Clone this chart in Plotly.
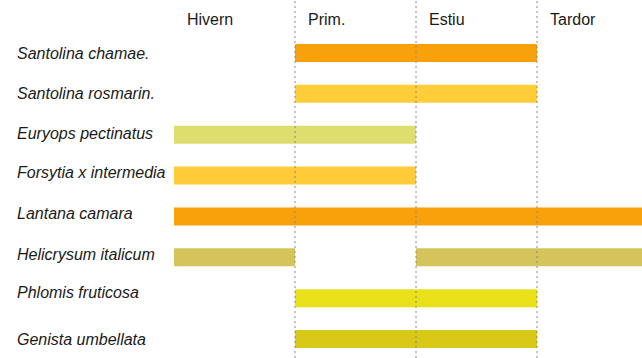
import plotly.graph_objects as go

# ---- data ----
seasons = ["Hivern", "Prim.", "Estiu", "Tardor"]
species = ["Santolina chamae.", "Santolina rosmarin.", "Euryops pectinatus",
           "Forsytia x intermedia", "Lantana camara", "Helicrysum italicum",
           "Phlomis fruticosa", "Genista umbellata"]
species_colors = ["#F9A10A", "#FFCD38", "#DEDE6E", "#FFCC38", "#F9A10A",
                  "#D5C35B", "#E8E11A", "#D8C818"]
bar_species = ["Santolina chamae.", "Santolina rosmarin.", "Euryops pectinatus",
               "Forsytia x intermedia", "Lantana camara", "Helicrysum italicum",
               "Helicrysum italicum", "Phlomis fruticosa", "Genista umbellata"]
bar_start = ["Prim.", "Prim.", "Hivern", "Hivern", "Hivern", "Hivern", "Estiu", "Prim.", "Prim."]
bar_end = ["Estiu", "Estiu", "Prim.", "Prim.", "Tardor", "Hivern", "Tardor", "Estiu", "Estiu"]

# label vertical nudges (px) relative to bar centre
label_shift = [0, 0, 1, 3, 3, 3, 6, 0]

FONT = "Arial, Liberation Sans, sans-serif"

fig = go.Figure()
for sp, s, e in zip(bar_species, bar_start, bar_end):
    i = species.index(sp)
    b = seasons.index(s)
    length = seasons.index(e) + 1 - b
    fig.add_trace(go.Bar(
        y=[i], x=[length], base=[b], orientation="h", width=0.44,
        marker=dict(color=species_colors[i], line=dict(width=0)),
        showlegend=False, hoverinfo="skip"))

# species labels
for i, sp in enumerate(species):
    fig.add_annotation(x=-0.3355, xref="paper", y=i, yref="y",
                       text="<i>" + sp + "</i>",
                       xanchor="left", yanchor="middle", showarrow=False,
                       xshift=-2, yshift=label_shift[i],
                       font=dict(family=FONT, size=16, color="#1a1a1a"))

# season labels
for j, s in enumerate(seasons):
    fig.add_annotation(x=j, xref="x", y=-0.82, yref="y", text=s,
                       xanchor="left", yanchor="middle", xshift=11,
                       showarrow=False,
                       font=dict(family=FONT, size=16, color="#1a1a1a"))

# season dividers
for j in range(1, len(seasons)):
    fig.add_shape(type="line", x0=j, x1=j, xref="x", y0=0, y1=1, yref="paper",
                  line=dict(color="#888888", width=1, dash="2px,3px"), layer="above")

fig.update_layout(
    width=642, height=358,
    margin=dict(l=174, r=0, t=0, b=0),
    paper_bgcolor="white", plot_bgcolor="white",
    barmode="overlay",
    xaxis=dict(range=[0, 468 / 121], showgrid=False, zeroline=False,
               showticklabels=False, ticks="", showline=False, fixedrange=True),
    yaxis=dict(range=[7.464, -1.297], showgrid=False, zeroline=False,
               showticklabels=False, ticks="", showline=False, fixedrange=True),
)

fig.write_html("out.html",
               config={"displayModeBar": False},
               post_script="document.body.style.margin='0';"
                           "document.body.style.overflow='hidden';")
